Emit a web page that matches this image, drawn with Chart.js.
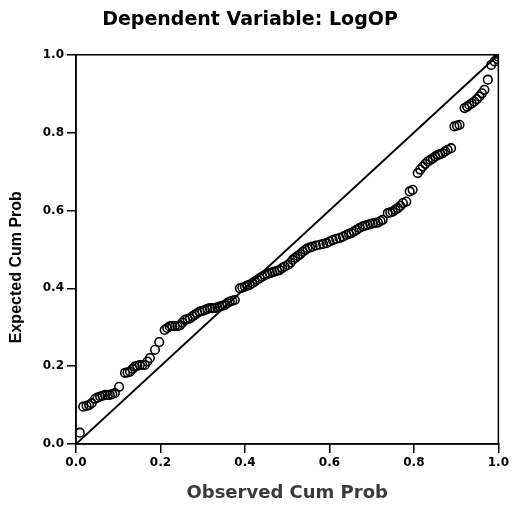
<!DOCTYPE html>
<html>
<head>
<meta charset="utf-8">
<script src="https://cdn.jsdelivr.net/npm/chart.js@4/dist/chart.umd.min.js"></script>
<style>
  html, body { margin: 0; padding: 0; background: #fff; }
  #wrap { width: 512px; height: 510px; }
</style>
</head>
<body>
<div id="wrap"><canvas id="pp"></canvas></div>
<script>
// observed vs expected cumulative probability
const obsProb = [
  0.009, 0.017, 0.025, 0.031, 0.037, 0.045, 0.051, 0.057, 0.063, 0.069, 0.075, 0.080, 0.086, 0.092, 0.102,
  0.116, 0.122, 0.128, 0.134, 0.139, 0.145, 0.151, 0.157, 0.163, 0.169, 0.175, 0.187, 0.197,
  0.210, 0.216, 0.222, 0.228, 0.234, 0.240, 0.246, 0.252, 0.258, 0.264, 0.270, 0.276, 0.281, 0.287,
  0.293, 0.299, 0.305, 0.311, 0.317, 0.323, 0.329, 0.335, 0.340, 0.346, 0.352, 0.358, 0.364, 0.370, 0.376,
  0.388, 0.394, 0.400, 0.405, 0.411, 0.417, 0.423, 0.429, 0.435, 0.441, 0.447, 0.453, 0.459, 0.465,
  0.470, 0.476, 0.482, 0.488, 0.494, 0.502, 0.508, 0.513, 0.519, 0.525, 0.531, 0.537, 0.543, 0.548,
  0.554, 0.560, 0.568, 0.577, 0.585, 0.593, 0.600, 0.608, 0.616, 0.624, 0.632, 0.640, 0.646, 0.652,
  0.658, 0.664, 0.671, 0.679, 0.685, 0.691, 0.697, 0.703, 0.709, 0.715, 0.721, 0.726,
  0.738, 0.744, 0.750, 0.756, 0.762, 0.768, 0.774, 0.782, 0.790, 0.797,
  0.809, 0.815, 0.821, 0.827, 0.833, 0.839, 0.845, 0.851, 0.857, 0.862, 0.868, 0.874, 0.880, 0.888,
  0.896, 0.902, 0.908, 0.920, 0.926, 0.931, 0.937, 0.943, 0.949, 0.955, 0.961, 0.967, 0.975,
  0.983, 0.991, 0.998, 1.000
]
const expProb = [
  0.029, 0.096, 0.098, 0.100, 0.105, 0.116, 0.119, 0.122, 0.124, 0.126, 0.126, 0.126, 0.128, 0.131, 0.147,
  0.183, 0.184, 0.186, 0.193, 0.199, 0.201, 0.203, 0.203, 0.203, 0.212, 0.221, 0.242, 0.262,
  0.293, 0.298, 0.302, 0.303, 0.303, 0.303, 0.305, 0.312, 0.319, 0.321, 0.323, 0.328, 0.332, 0.336,
  0.340, 0.342, 0.344, 0.347, 0.349, 0.349, 0.349, 0.351, 0.353, 0.355, 0.357, 0.362, 0.366, 0.368, 0.370,
  0.400, 0.402, 0.404, 0.407, 0.409, 0.413, 0.417, 0.422, 0.426, 0.430, 0.434, 0.437, 0.439, 0.441,
  0.443, 0.445, 0.447, 0.452, 0.456, 0.460, 0.466, 0.473, 0.478, 0.483, 0.488, 0.494, 0.499, 0.503,
  0.505, 0.507, 0.510, 0.512, 0.514, 0.516, 0.520, 0.524, 0.527, 0.529, 0.533, 0.537, 0.540, 0.542,
  0.546, 0.550, 0.555, 0.559, 0.561, 0.563, 0.565, 0.567, 0.568, 0.569, 0.573, 0.576,
  0.593, 0.595, 0.597, 0.602, 0.606, 0.612, 0.619, 0.623, 0.649, 0.653,
  0.696, 0.705, 0.713, 0.720, 0.726, 0.730, 0.734, 0.739, 0.743, 0.745, 0.747, 0.752, 0.756, 0.760,
  0.816, 0.818, 0.820, 0.863, 0.867, 0.871, 0.875, 0.880, 0.886, 0.893, 0.901, 0.910, 0.936,
  0.974, 0.983, 0.989, 0.995
]
const refLine = [0, 1]
const tickVals = [0, 0.2, 0.4, 0.6, 0.8, 1.0]

const points = obsProb.map((x, i) => ({ x: x, y: expProb[i] }))
const diag = refLine.map(v => ({ x: v, y: v }))

const WIDE = '"DejaVu Sans", Verdana, sans-serif'
const NARROW = 'Arial, "Liberation Sans", sans-serif'

// box round the plot (top and right sides)
const frame = {
  id: 'frame',
  afterDatasetsDraw(chart) {
    const a = chart.chartArea, ctx = chart.ctx
    ctx.save()
    ctx.strokeStyle = '#000'
    ctx.lineWidth = 1.5
    ctx.strokeRect(a.left, a.top, a.right - a.left, a.bottom - a.top)
    ctx.restore()
  }
}

const axisCommon = {
  type: 'linear',
  min: 0,
  max: 1,
  afterBuildTicks: s => { s.ticks = tickVals.map(v => ({ value: v })) },
  grid: { drawOnChartArea: false, drawTicks: true, tickLength: 9, color: '#000', lineWidth: 1.5 },
  border: { color: '#000', width: 1.5 },
  ticks: {
    color: '#000',
    font: { family: WIDE, size: 12, weight: 'bold' },
    padding: 3,
    callback: v => v.toFixed(1)
  }
}

new Chart(document.getElementById('pp'), {
  type: 'scatter',
  data: {
    datasets: [
      {
        type: 'line',
        data: diag,
        borderColor: '#000',
        borderWidth: 1.9,
        pointRadius: 0,
        fill: false
      },
      {
        data: points,
        pointRadius: 4.3,
        pointBorderWidth: 1.6,
        pointBorderColor: '#000',
        pointBackgroundColor: 'rgba(255,255,255,0)'
      }
    ]
  },
  options: {
    responsive: true,
    maintainAspectRatio: false,
    animation: false,
    layout: { padding: { left: 0, right: 12, top: 0, bottom: 0 } },
    plugins: {
      legend: { display: false },
      tooltip: { enabled: false },
      title: {
        display: true,
        text: 'Dependent Variable: LogOP',
        color: '#000',
        font: { family: WIDE, size: 19, weight: 'bold' },
        padding: { top: 9, bottom: 23 }
      }
    },
    scales: {
      x: Object.assign({}, axisCommon, {
        position: 'bottom',
        afterFit: s => { s.height = 66 },
        title: {
          display: true,
          text: 'Observed Cum Prob',
          color: '#3a3a3a',
          font: { family: WIDE, size: 18, weight: 'bold' },
          padding: { top: 0, bottom: 6 }
        }
      }),
      y: Object.assign({}, axisCommon, {
        position: 'left',
        afterFit: s => { s.width = 76 },
        title: {
          display: true,
          // trailing spaces push the label a little below the axis centre, as in the original
          text: 'Expected Cum Prob        ',
          color: '#000',
          font: { family: NARROW, size: 16, weight: 'bold' },
          padding: { top: 7, bottom: 0 }
        }
      })
    }
  },
  plugins: [frame]
})
</script>
</body>
</html>
